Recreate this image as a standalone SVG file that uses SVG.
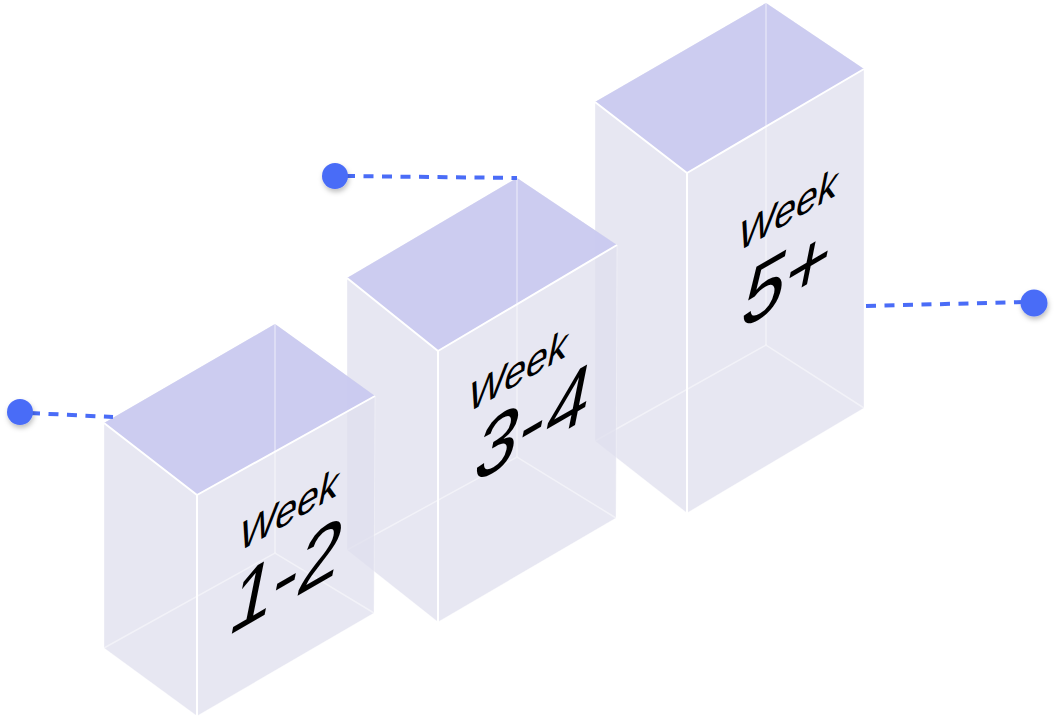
<svg xmlns="http://www.w3.org/2000/svg" width="1055" height="720" viewBox="0 0 1055 720">
  <defs>
    <style>
      .face { fill: #dfdfee; fill-opacity: 0.75; }
      .top { fill: #c9c9f0; fill-opacity: 0.9; }
      .inner { stroke: #ffffff; stroke-opacity: 0.45; stroke-width: 1.5; fill: none; }
      .outer { stroke: #ffffff; stroke-opacity: 0.35; stroke-width: 1; fill: none; }
      .edge { stroke: #ffffff; stroke-width: 2; fill: none; stroke-linejoin: round; }
      .lbl { font-family: "Liberation Sans", Arial, sans-serif; fill: #000000; }
      .wk { font-size: 45px; }
      .num { font-size: 88px; }
      .conn { stroke: #4a6cf7; stroke-width: 4; stroke-dasharray: 10 8.5; fill: none; }
      .dot { fill: #4a6cf7; filter: url(#sh); }
    </style>
    <filter id="sh" x="-50%" y="-50%" width="200%" height="200%">
      <feDropShadow dx="1" dy="3" stdDeviation="2.5" flood-color="#000000" flood-opacity="0.25"/>
    </filter>
  </defs>

  <g id="box-week-5">
    <polygon class="face" points="595,102 766,3 864,69 864,408 687,513 595,441"/>
    <polygon class="top" points="595,102 766,3 864,69 687,173"/>
    <polyline class="inner" points="766,3 766,345"/>
    <polyline class="inner" points="595,441 766,345 864,408"/>
    <polyline class="outer" points="595,102 595,441 687,513 864,408 864,69"/>
    <polyline class="edge" points="595,102 687,173 864,69"/>
    <line class="edge" x1="687" y1="173" x2="687" y2="513"/>
    <text class="lbl wk" transform="matrix(0.866,-0.5,-0.2,1,736,253)">Week</text>
    <text class="lbl num" transform="matrix(0.866,-0.5,-0.2,1,738,331)">5+</text>
  </g>

  <g id="box-week-3-4">
    <polygon class="face" points="347,278 517,178 617,245 616,518 438,622 347,550"/>
    <polygon class="top" points="347,278 517,178 617,245 438,351"/>
    <polyline class="inner" points="517,178 517,457"/>
    <polyline class="inner" points="347,550 517,457 616,518"/>
    <polyline class="outer" points="347,278 347,550 438,622 616,518 617,245"/>
    <polyline class="edge" points="347,278 438,351 617,245"/>
    <line class="edge" x1="438" y1="351" x2="438" y2="622"/>
    <text class="lbl wk" transform="matrix(0.866,-0.5,-0.2,1,466,414)">Week</text>
    <text class="lbl num" transform="matrix(0.866,-0.5,-0.2,1,471,485)" letter-spacing="2">3-4</text>
  </g>

  <g id="box-week-1-2">
    <polygon class="face" points="104,423 275,324 375,396 374,613 197,716 104,648"/>
    <polygon class="top" points="104,423 275,324 375,396 197,495"/>
    <polyline class="inner" points="275,324 275,553"/>
    <polyline class="inner" points="104,648 275,553 374,613"/>
    <polyline class="outer" points="104,423 104,648 197,716 374,613 375,396"/>
    <polyline class="edge" points="104,423 197,495 375,396"/>
    <line class="edge" x1="197" y1="495" x2="197" y2="716"/>
    <text class="lbl wk" transform="matrix(0.866,-0.5,-0.2,1,237,553)">Week</text>
    <text class="lbl num" transform="matrix(0.866,-0.5,-0.2,1,226,637)">1-2</text>
  </g>

  <g id="connectors">
    <line class="conn" x1="30" y1="413" x2="113" y2="417"/>
    <line class="conn" x1="345" y1="176" x2="517" y2="178"/>
    <line class="conn" x1="866" y1="306" x2="1024" y2="302"/>
    <circle class="dot" cx="20" cy="412" r="13"/>
    <circle class="dot" cx="335" cy="176" r="13"/>
    <circle class="dot" cx="1034" cy="303" r="13.5"/>
  </g>
</svg>
